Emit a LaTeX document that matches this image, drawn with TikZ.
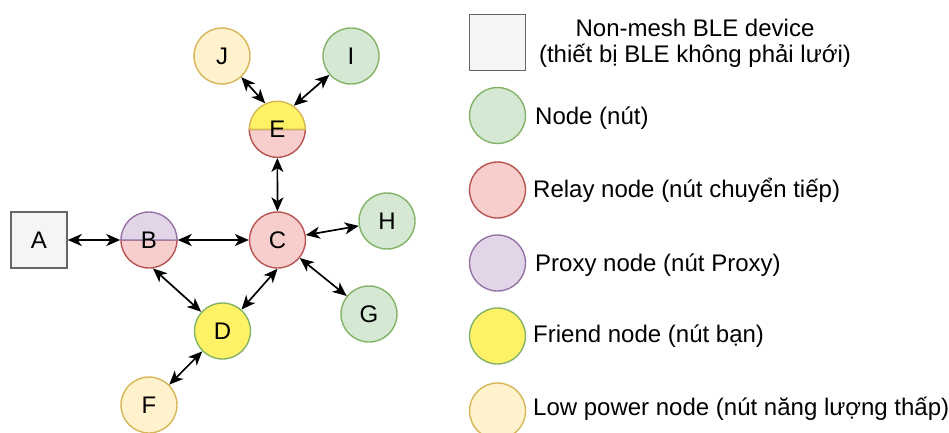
\documentclass[tikz,border=0pt]{standalone}
\usepackage{fontspec}
\setmainfont{Liberation Sans}
\usetikzlibrary{arrows.meta}
\definecolor{gfill}{HTML}{D5E8D4}\definecolor{gline}{HTML}{82B366}
\definecolor{rfill}{HTML}{F8CECC}\definecolor{rline}{HTML}{B85450}
\definecolor{pfill}{HTML}{E1D5E7}\definecolor{pline}{HTML}{9673A6}
\definecolor{yfill}{HTML}{FFF266}\definecolor{oline}{HTML}{D6B656}
\definecolor{lfill}{HTML}{FFF2CC}
\definecolor{sfill}{HTML}{F5F5F5}\definecolor{sline}{HTML}{666666}
\newcommand\splitdisk[5]{% center, top fill, top line, bottom fill, bottom line
  \filldraw[fill=#4,draw=#5,line width=1.4pt] #1 ++(-28,0) arc[start angle=180,end angle=360,radius=28] -- cycle;
  \filldraw[fill=#2,draw=#3,line width=1.4pt] #1 ++(28,0) arc[start angle=0,end angle=180,radius=28] -- cycle;}
\begin{document}
\begin{tikzpicture}[x=1pt,y=1pt,
  font=\fontsize{24}{26}\selectfont,
  disk/.style={circle,minimum size=56pt,inner sep=0pt,line width=1.4pt},
  green/.style={disk,fill=gfill,draw=gline},
  relay/.style={disk,fill=rfill,draw=rline},
  proxy/.style={disk,fill=pfill,draw=pline},
  friend/.style={disk,fill=yfill,draw=gline},
  lowp/.style={disk,fill=lfill,draw=oline},
  plain/.style={disk},
  dev/.style={rectangle,minimum size=56pt,inner sep=0pt,line width=1.4pt,fill=sfill,draw=sline},
  conn/.style={line width=1.7pt,{Stealth[length=14pt,width=12pt,inset=4pt]}-{Stealth[length=14pt,width=12pt,inset=4pt]}},
  legtext/.style={anchor=base west,inner sep=0pt}]
\useasboundingbox (0,0) rectangle (949,432);
% split disks
\splitdisk{(149,192)}{pfill}{pline}{rfill}{rline}
\splitdisk{(277.3,302.7)}{yfill}{oline}{rfill}{rline}
% nodes
\node[dev] (A) at (39,192) {A};
\node[plain] (B) at (149,192) {B};
\node[relay] (C) at (277.5,192) {C};
\node[plain] (E) at (277.3,302.7) {E};
\node[lowp] (J) at (222,376) {J};
\node[green] (I) at (351,376) {I};
\node[green] (H) at (387,211) {H};
\node[green] (G) at (369,118) {G};
\node[friend] (D) at (222.5,101) {D};
\node[lowp] (F) at (149,27) {F};
% connectors
\draw[conn] (A) -- (B);
\draw[conn] (B) -- (C);
\draw[conn] (E) -- (C);
\draw[conn] (C) -- (H);
\draw[conn] (C) -- (G);
\draw[conn] (B.-82) -- (D);
\draw[conn] (C.south) -- (D);
\draw[conn] (D) -- (F);
\draw[conn] (J) -- (E.115);
\draw[conn] (I) -- (E.55);
% legend
\node[dev] (L1) at (497.5,389.5) {};
\node[align=center,anchor=base,inner sep=0pt] (T1) at (695,369) {Non-mesh BLE device\\(thiết bị BLE không phải lưới)};
\node[green] (L2) at (497.5,316.5) {};
\node[legtext] (T2) at (535,308) {Node (nút)};
\node[relay] (L3) at (497.5,242) {};
\node[legtext] (T3) at (533,235) {Relay node (nút chuyển tiếp)};
\node[proxy] (L4) at (497.5,169) {};
\node[legtext] (T4) at (535,161) {Proxy node (nút Proxy)};
\node[friend] (L5) at (497.5,96) {};
\node[legtext] (T5) at (533,90) {Friend node (nút bạn)};
\node[lowp] (L6) at (497.5,21) {};
\node[legtext] (T6) at (533,17) {Low power node (nút năng lượng thấp)};
\end{tikzpicture}
\end{document}
